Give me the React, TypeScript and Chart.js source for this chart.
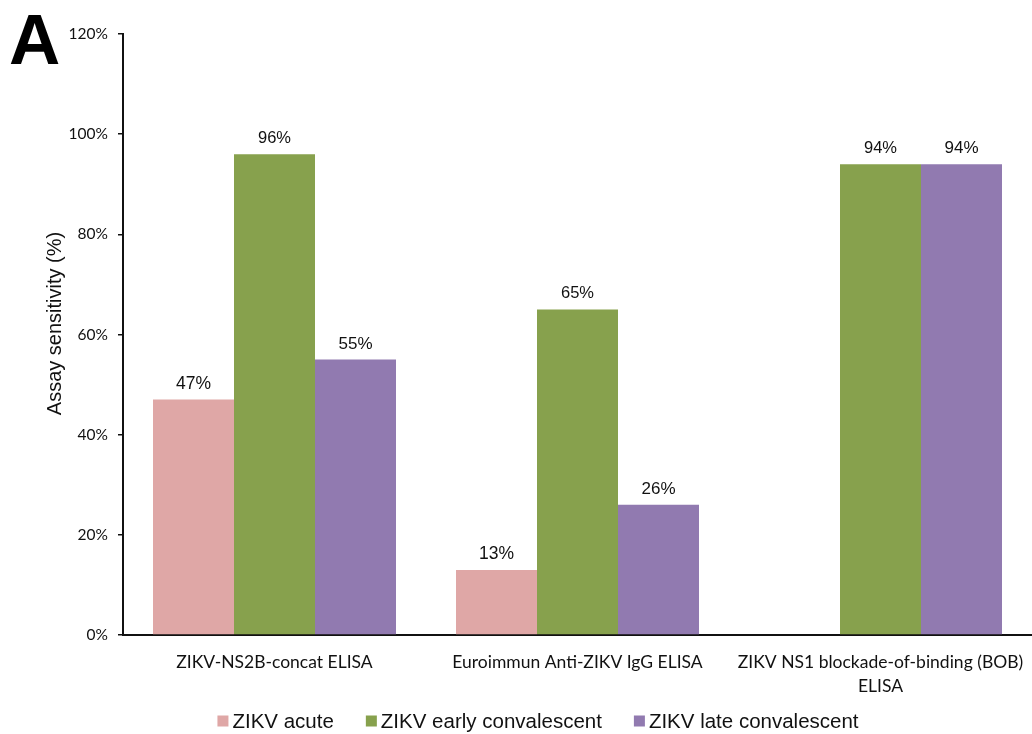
import { useEffect, useRef } from 'react';
import { Chart, registerables } from 'chart.js';

Chart.register(...registerables);

// Assay groups shown along the x axis (multi-line labels as arrays)
const categories: string[][] = [
  ['ZIKV-NS2B-concat ELISA'],
  ['Euroimmun Anti-ZIKV IgG ELISA'],
  ['ZIKV NS1 blockade-of-binding (BOB)', 'ELISA'],
];

const seriesNames = ['ZIKV acute', 'ZIKV early convalescent', 'ZIKV late convalescent'];

// Sensitivity (%) per assay
const acute: (number | null)[] = [47, 13, null];
const earlyConvalescent: (number | null)[] = [96, 65, 94];
const lateConvalescent: (number | null)[] = [55, 26, 94];

// y axis range and tick step (%)
const yMin = 0;
const yMax = 120;
const yStep = 20;
const yTitle = 'Assay sensitivity (%)';

const seriesColors = ['#DFA7A6', '#87A14D', '#917AB0'];
const valueLabelSizes = [17.5, 16.5, 17];

const ARIAL = '"Liberation Sans", Arial, Helvetica, sans-serif';
const HUMANIST = 'Lato, "Open Sans", sans-serif';

// Percent labels above each bar
const valueLabels = {
  id: 'valueLabels',
  afterDatasetsDraw(chart: any) {
    const ctx = chart.ctx;
    ctx.save();
    ctx.fillStyle = '#111';
    ctx.textAlign = 'center';
    ctx.textBaseline = 'alphabetic';
    chart.data.datasets.forEach((ds: any, di: number) => {
      const meta = chart.getDatasetMeta(di);
      ctx.font = `${valueLabelSizes[di]}px ${ARIAL}`;
      meta.data.forEach((bar: any, i: number) => {
        const v = ds.data[i];
        if (v == null) return;
        ctx.fillText(`${v}%`, bar.x, bar.y - 11);
      });
    });
    ctx.restore();
  },
};

// Rotated y-axis title, slightly above the plot's vertical centre
const axisTitle = {
  id: 'axisTitle',
  afterDraw(chart: any) {
    const ctx = chart.ctx;
    const { top, bottom } = chart.chartArea;
    ctx.save();
    ctx.translate(55, (top + bottom) / 2 - 11);
    ctx.rotate(-Math.PI / 2);
    ctx.font = `20px ${ARIAL}`;
    ctx.fillStyle = '#111';
    ctx.textAlign = 'center';
    ctx.textBaseline = 'middle';
    ctx.fillText(yTitle, 0, 0);
    ctx.restore();
  },
};

// Legend row under the axis labels
const bottomLegend = {
  id: 'bottomLegend',
  afterDraw(chart: any) {
    const ctx = chart.ctx;
    ctx.save();
    ctx.font = `20.5px ${ARIAL}`;
    const box = 11;
    const gap = 4;
    const spacing = 32;
    const cy = 721;
    const items = chart.data.datasets.map((ds: any) => ({
      text: ds.label as string,
      color: ds.backgroundColor as string,
      w: box + gap + ctx.measureText(ds.label).width,
    }));
    const total = items.reduce((s: number, it: any) => s + it.w, 0) + spacing * (items.length - 1);
    let x = 538 - total / 2;
    ctx.textAlign = 'left';
    ctx.textBaseline = 'middle';
    items.forEach((it: any) => {
      ctx.fillStyle = it.color;
      ctx.fillRect(x, cy - box / 2, box, box);
      ctx.fillStyle = '#111';
      ctx.fillText(it.text, x + box + gap, cy + 1.5);
      x += it.w + spacing;
    });
    ctx.restore();
  },
};

// Panel letter in the top-left corner
const panelLetter = {
  id: 'panelLetter',
  afterDraw(chart: any) {
    const ctx = chart.ctx;
    ctx.save();
    ctx.fillStyle = '#000';
    ctx.font = `bold 71px ${ARIAL}`;
    ctx.textAlign = 'left';
    ctx.textBaseline = 'alphabetic';
    ctx.fillText('A', 9, 64);
    ctx.restore();
  },
};

export default function App() {
  const canvasRef = useRef<HTMLCanvasElement | null>(null);

  useEffect(() => {
    if (!canvasRef.current) return;
    const series = [acute, earlyConvalescent, lateConvalescent];
    const chart = new Chart(canvasRef.current, {
      type: 'bar',
      data: {
        labels: categories,
        datasets: series.map((data, i) => ({
          label: seriesNames[i],
          data,
          backgroundColor: seriesColors[i],
          borderWidth: 0,
          categoryPercentage: 0.802,
          barPercentage: 1,
        })),
      },
      options: {
        animation: false,
        responsive: true,
        maintainAspectRatio: false,
        events: [],
        layout: { padding: { top: 34, left: 0, right: 0, bottom: 39 } },
        plugins: {
          legend: { display: false },
          tooltip: { enabled: false },
        },
        scales: {
          x: {
            grid: { display: true, drawOnChartArea: false, drawTicks: false },
            border: { display: true, color: '#111', width: 2 },
            ticks: {
              color: '#111',
              padding: 15,
              maxRotation: 0,
              autoSkip: false,
              font: { family: HUMANIST, size: 17.5, lineHeight: 1.4 },
            },
            afterFit(scale: any) {
              scale.height = 60;
              scale.paddingLeft = 0;
              scale.paddingRight = 0;
            },
          },
          y: {
            min: yMin,
            max: yMax,
            grid: {
              display: true,
              drawOnChartArea: false,
              drawTicks: true,
              tickLength: 5,
              color: '#111',
              lineWidth: 1.5,
            },
            border: { display: true, color: '#111', width: 2 },
            ticks: {
              stepSize: yStep,
              color: '#111',
              padding: 10,
              font: { family: HUMANIST, size: 15.5 },
              callback: (v: any) => `${v}%`,
            },
            afterFit(scale: any) {
              scale.width = 123;
            },
          },
        },
      },
      plugins: [valueLabels, axisTitle, bottomLegend, panelLetter],
    });
    return () => chart.destroy();
  }, []);

  return (
    <div style={{ position: 'absolute', left: 0, top: 0, width: 1032, height: 734, background: '#fff' }}>
      <canvas ref={canvasRef} />
    </div>
  );
}
